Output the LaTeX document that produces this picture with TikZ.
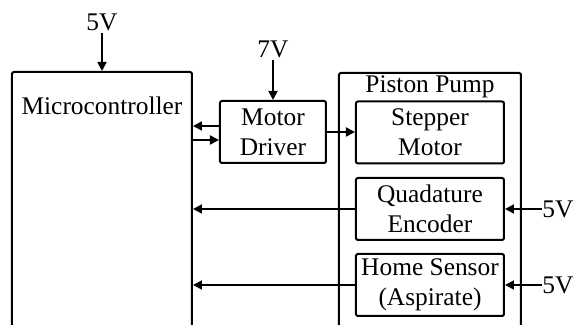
\documentclass[tikz,border=0pt]{standalone}
\usepackage{fontspec}
\setmainfont{Liberation Serif}
\usetikzlibrary{fit,arrows.meta}
\begin{document}
\begin{tikzpicture}[x=0.5pt,y=-0.5pt,
  box/.style={draw,line width=1pt,rounded corners=1pt,inner sep=0pt},
  txt/.style={font=\fontsize{12.7}{15}\selectfont,align=center,inner sep=1pt},
  sbox/.style={box,txt,minimum width=74pt,minimum height=31pt},
  arr/.style={line width=0.9pt,-{Triangle[length=4.5pt,width=4.5pt]}}]
\useasboundingbox (0,0) rectangle (575,325);
\clip (0,0) rectangle (575,325);
% big boxes
\node[box,fit={(12,72) (192,345)}] (mc) {};
\node[txt,anchor=base] (mcl) at (102,115) {Microcontroller};
\node[box,fit={(339,73) (521,345)}] (pp) {};
\node[txt,anchor=base] (ppl) at (430,93) {Piston Pump};
% inner boxes
\node[box,txt,minimum width=53pt,minimum height=31pt] (md) at (273,132) {Motor\\Driver};
\node[sbox] (st) at (430,132.5) {Stepper\\Motor};
\node[sbox] (qe) at (430,209) {Quadature\\Encoder};
\node[sbox] (hs) at (430,285) {Home Sensor\\(Aspirate)};
% supply labels
\node[txt,anchor=south] (v5a) at (102,33) {5V};
\node[txt,anchor=south] (v7) at (273,60) {7V};
\node[txt,anchor=west,inner sep=0pt] (v5b) at (542,209) {5V};
\node[txt,anchor=west,inner sep=0pt] (v5c) at (542,285) {5V};
% connectors
\draw[arr] (v5a.south) -- (v5a.south |- mc.north);
\draw[arr] (v7.south) -- (md.north);
\draw[arr] (v5b.west) -- (v5b.west -| qe.east);
\draw[arr] (v5c.west) -- (v5c.west -| hs.east);
\draw[arr] ([yshift=3pt]md.west) -- ([yshift=3pt]md.west -| mc.east);
\draw[arr] ([yshift=-4pt]md.west -| mc.east) -- ([yshift=-4pt]md.west);
\draw[arr] (md.east) -- (md.east -| st.west);
\draw[arr] (qe.west) -- (qe.west -| mc.east);
\draw[arr] (hs.west) -- (hs.west -| mc.east);
\end{tikzpicture}
\end{document}
